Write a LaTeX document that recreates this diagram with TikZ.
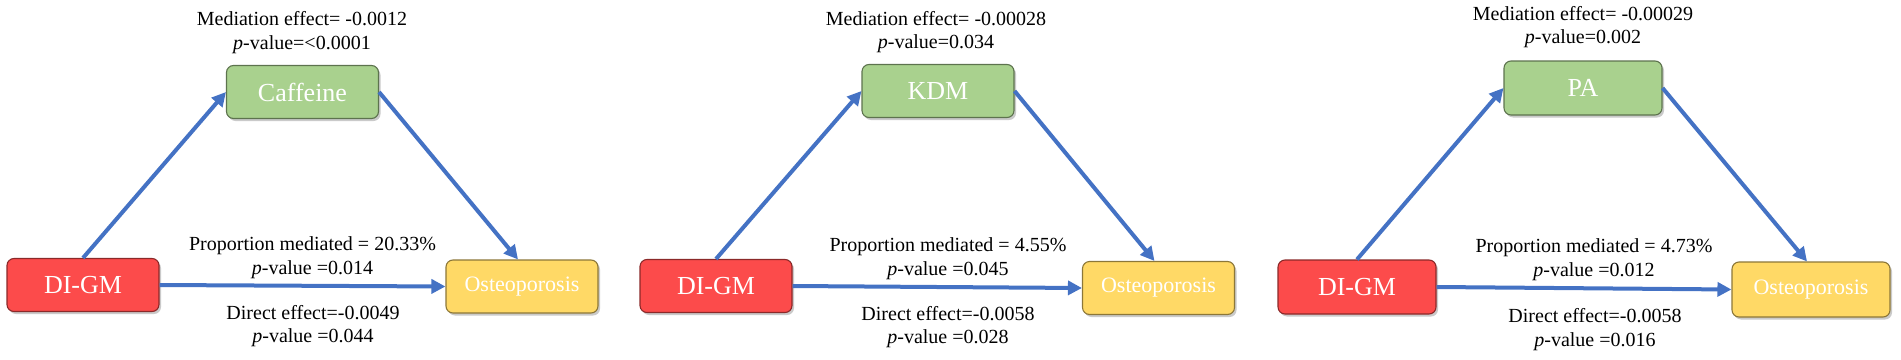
\documentclass[tikz,border=0pt]{standalone}
\usepackage{fontspec}
\setmainfont{Liberation Serif}
\usetikzlibrary{arrows.meta,shadows}
\definecolor{medgreen}{HTML}{A9D18E}
\definecolor{expred}{HTML}{FC4B4B}
\definecolor{outyellow}{HTML}{FFD966}
\definecolor{arrowblue}{HTML}{4472C4}
\tikzset{
  vbox/.style={rectangle, rounded corners=7pt, draw=#1!55!black, fill=#1, line width=1.1pt,
    text=white, inner sep=0pt, minimum width=152pt, minimum height=53pt,
    drop shadow={shadow xshift=2pt, shadow yshift=-2.5pt, fill=black!35, opacity=0.6}},
  bigtxt/.style={font=\fontsize{26}{30}\selectfont},
  smalltxt/.style={font=\fontsize{22}{26}\selectfont},
  lbl/.style={align=center, inner sep=0pt, font=\fontsize{20}{23.5}\selectfont},
  link/.style={draw=arrowblue, line width=4pt, -{Triangle[length=14pt,width=14pt]}, shorten >=0pt},
}
\begin{document}
\begin{tikzpicture}[x=1pt,y=-1pt]
\useasboundingbox (0,0) rectangle (1901,359);
% ---------- panel 1 ----------
\node[vbox=expred, bigtxt] (x1) at (83,285) {DI-GM};
\node[vbox=medgreen, bigtxt] (m1) at (302.5,92) {Caffeine};
\node[vbox=outyellow, smalltxt] (y1) at (522,286.5) {Osteoporosis};
\node[lbl] (t1) at (302,32.5) {Mediation effect= -0.0012\\\textit{p}-value=<0.0001};
\node[lbl] (p1) at (312.5,257.5) {Proportion mediated = 20.33\%\\\textit{p}-value =0.014};
\node[lbl] (d1) at (313,326) {Direct effect=-0.0049\\\textit{p}-value =0.044};
\draw[link] (x1.north) -- (m1.west);
\draw[link] (m1.east) -- ([xshift=-4pt]y1.north);
\draw[link] (x1.east) -- (y1.west);
% ---------- panel 2 ----------
\node[vbox=expred, bigtxt] (x2) at (716,286) {DI-GM};
\node[vbox=medgreen, bigtxt] (m2) at (938,91) {KDM};
\node[vbox=outyellow, smalltxt] (y2) at (1158.5,288) {Osteoporosis};
\node[lbl] (t2) at (936,32) {Mediation effect= -0.00028\\\textit{p}-value=0.034};
\node[lbl] (p2) at (948,258.5) {Proportion mediated = 4.55\%\\\textit{p}-value =0.045};
\node[lbl] (d2) at (948,327) {Direct effect=-0.0058\\\textit{p}-value =0.028};
\draw[link] (x2.north) -- (m2.west);
\draw[link] (m2.east) -- ([xshift=-4pt]y2.north);
\draw[link] (x2.east) -- (y2.west);
% ---------- panel 3 ----------
\node[vbox=expred, bigtxt, minimum width=158pt, minimum height=54pt] (x3) at (1357,287) {DI-GM};
\node[vbox=medgreen, bigtxt, minimum width=158pt, minimum height=54pt] (m3) at (1583,88) {PA};
\node[vbox=outyellow, smalltxt, minimum width=158pt, minimum height=55pt] (y3) at (1811,289.5) {Osteoporosis};
\node[lbl] (t3) at (1583,27) {Mediation effect= -0.00029\\\textit{p}-value=0.002};
\node[lbl] (p3) at (1594,259.5) {Proportion mediated = 4.73\%\\\textit{p}-value =0.012};
\node[lbl] (d3) at (1595,329.5) {Direct effect=-0.0058\\\textit{p}-value =0.016};
\draw[link] (x3.north) -- (m3.west);
\draw[link] (m3.east) -- ([xshift=-4pt]y3.north);
\draw[link] (x3.east) -- (y3.west);
\end{tikzpicture}
\end{document}
